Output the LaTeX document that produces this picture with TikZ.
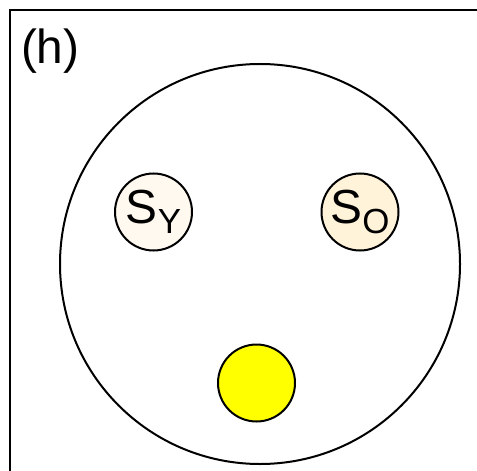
\documentclass[tikz,border=0pt]{standalone}
\usepackage{fontspec}
\setmainfont{Liberation Sans}
\usetikzlibrary{positioning}
\definecolor{youngfill}{HTML}{FFF9F0}
\definecolor{oldfill}{HTML}{FFF3D9}
\definecolor{spotfill}{HTML}{FFFF00}
\newcommand{\lowsub}[1]{\raisebox{-0.2em}{\fontsize{35}{35}\selectfont #1}}

\begin{document}
\begin{tikzpicture}[
    x=1bp, y=-1bp,
    line width=2bp,
    cell/.style={draw, circle, minimum size=#1, inner sep=0pt},
    state/.style={cell=77bp, fill=#1, font=\fontsize{48}{48}\selectfont}
]
    \useasboundingbox (0,0) rectangle (477,471);

    % Panel frame and label
    \draw[line width=2.5bp] (10,471) |- (477,10);
    \node[anchor=base west, inner sep=0pt, font=\fontsize{48}{48}\selectfont] (tag) at (20,64) {(h)};

    % Outer circle
    \node[cell=400bp] (dish) at (260,264) {};

    % States
    \node[state=youngfill] (sy) at (153.5,212) {S\lowsub{Y}};
    \node[state=oldfill] (so) at (360,212) {S\lowsub{O}};

    % Yellow spot
    \node[cell=77bp, fill=spotfill] (spot) at (256.5,383) {};

\end{tikzpicture}
\end{document}
